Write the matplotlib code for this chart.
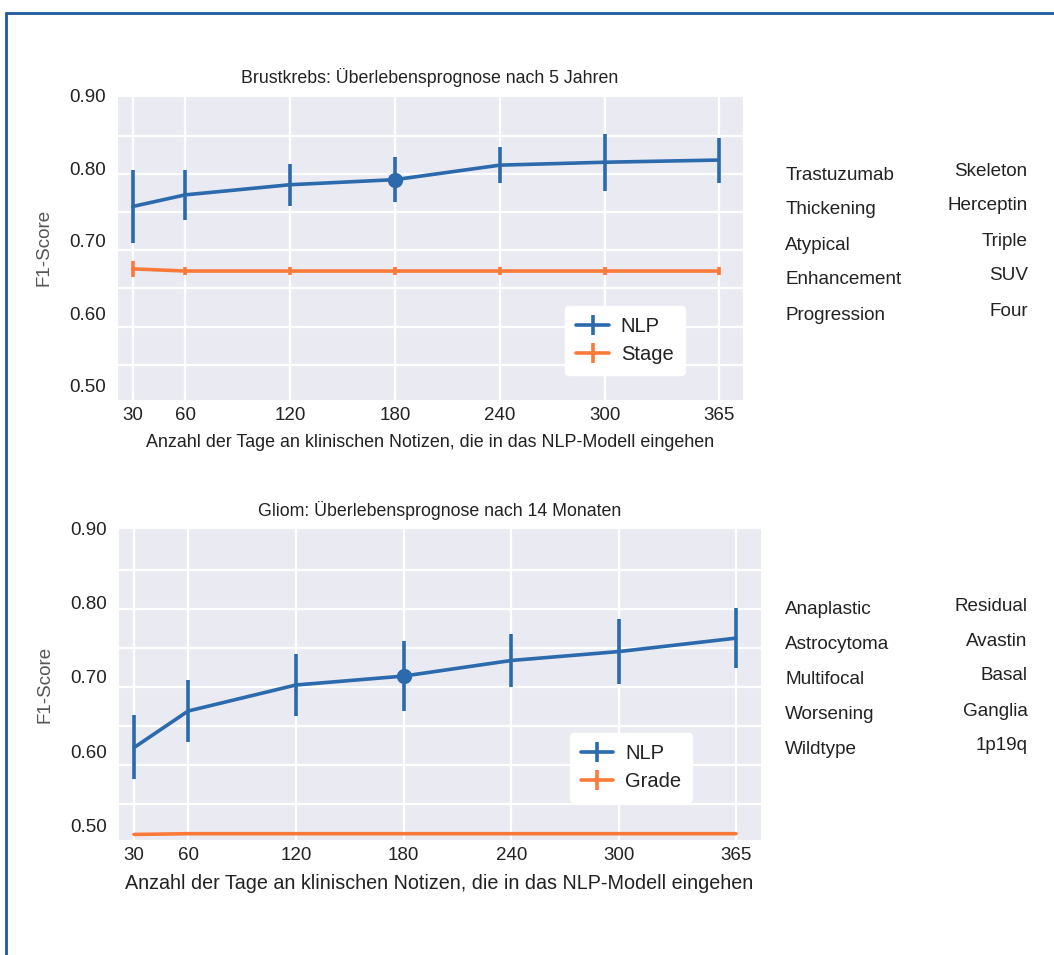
import numpy as np
import matplotlib
matplotlib.use('Agg')
import matplotlib.pyplot as plt
import seaborn as sns
from matplotlib.lines import Line2D
from matplotlib.ticker import FixedLocator

days = [30, 60, 120, 180, 240, 300, 365]
day_labels = ['30', '60', '120', '180', '240', '300', '365']

# Brustkrebs
bc_nlp = [0.747, 0.763, 0.777, 0.784, 0.804, 0.808, 0.811]
bc_nlp_err = [0.050, 0.034, 0.029, 0.031, 0.025, 0.039, 0.031]
bc_stage = [0.661, 0.658, 0.658, 0.658, 0.658, 0.658, 0.658]
bc_stage_err = [0.011, 0.006, 0.006, 0.006, 0.006, 0.006, 0.006]
bc_left_words = ['Trastuzumab', 'Thickening', 'Atypical', 'Enhancement', 'Progression']
bc_right_words = ['Skeleton', 'Herceptin', 'Triple', 'SUV', 'Four']

# Gliom
gl_nlp = [0.605, 0.654, 0.689, 0.701, 0.722, 0.734, 0.752]
gl_nlp_err = [0.043, 0.042, 0.042, 0.047, 0.036, 0.044, 0.040]
gl_grade = [0.488, 0.489, 0.489, 0.489, 0.489, 0.489, 0.489]
gl_grade_err = [0.001, 0.001, 0.001, 0.001, 0.001, 0.001, 0.001]
gl_left_words = ['Anaplastic', 'Astrocytoma', 'Multifocal', 'Worsening', 'Wildtype']
gl_right_words = ['Residual', 'Avastin', 'Basal', 'Ganglia', '1p19q']

yticks = [0.50, 0.60, 0.70, 0.80, 0.90]

sns.set_style('darkgrid')
plt.rcParams['font.family'] = ['Liberation Sans', 'DejaVu Sans']

BLUE = '#2a6aad'
ORANGE = '#fb7a3a'

fig = plt.figure(figsize=(10.54, 9.55), dpi=100)


def draw_panel(rect, title, nlp, nlp_err, base, base_err, base_name, legend_pos, xlabel_size):
    ax = fig.add_axes(rect)
    ax.errorbar(days, nlp, yerr=nlp_err, color=BLUE, lw=2.6, elinewidth=2.6, label='NLP')
    ax.errorbar(days, base, yerr=base_err, color=ORANGE, lw=2.6, elinewidth=2.6, label=base_name)
    ax.plot([days[3]], [nlp[3]], 'o', color=BLUE, ms=10)
    ax.set_xlim(21, 379)
    ax.set_ylim(0.48, 0.90)
    ax.set_xticks(days)
    ax.set_xticklabels(day_labels)
    ax.set_yticks(yticks)
    ax.set_yticklabels([f'{v:.2f}' for v in yticks])
    ax.yaxis.set_minor_locator(FixedLocator(np.linspace(0.529, 0.844, 7)))
    ax.grid(False, axis='y', which='major')
    ax.grid(True, axis='y', which='minor', color='white', lw=1.6)
    ax.grid(True, axis='x', which='major', color='white', lw=1.6)
    ax.tick_params(axis='both', which='both', length=0, labelsize=13.5, colors='#222222')
    ax.tick_params(axis='y', pad=8)
    ax.tick_params(axis='x', pad=5)
    ax.set_title(title, fontsize=12.8, color='#222222', pad=9)
    ax.set_xlabel('Anzahl der Tage an klinischen Notizen, die in das NLP-Modell eingehen',
                  fontsize=xlabel_size, color='#222222', labelpad=7)
    ax.set_ylabel('F1-Score', fontsize=13.5, color='#555555', labelpad=12)
    leg = ax.legend(loc='lower left', bbox_to_anchor=legend_pos, fontsize=14.5,
                    frameon=True, facecolor='white', edgecolor='white', framealpha=1,
                    handlelength=1.6, handletextpad=0.6, borderpad=0.55, labelspacing=0.45)
    for t in leg.get_texts():
        t.set_color('#222222')
    return ax


draw_panel([0.111, 0.581, 0.594, 0.319],
           'Brustkrebs: Überlebensprognose nach 5 Jahren',
           bc_nlp, bc_nlp_err, bc_stage, bc_stage_err, 'Stage', (0.70, 0.048), 12.9)
draw_panel([0.112, 0.120, 0.610, 0.327],
           'Gliom: Überlebensprognose nach 14 Monaten',
           gl_nlp, gl_nlp_err, gl_grade, gl_grade_err, 'Grade', (0.687, 0.09), 14.2)


def word_columns(left_words, right_words, y_left, y_right):
    for i, w in enumerate(left_words):
        fig.text(0.745, 1 - (y_left + 35 * i) / 955, w, fontsize=13.6, color='#222222',
                 ha='left', va='center')
    for i, w in enumerate(right_words):
        fig.text(0.975, 1 - (y_right + 35 * i) / 955, w, fontsize=13.6, color='#222222',
                 ha='right', va='center')


word_columns(bc_left_words, bc_right_words, 175, 171)
word_columns(gl_left_words, gl_right_words, 609, 606)

# blue frame
fig.add_artist(Line2D([0.006, 0.006], [0, 0.986], transform=fig.transFigure, color='#1f5a9e', lw=2))
fig.add_artist(Line2D([0.006, 1.0], [0.986, 0.986], transform=fig.transFigure, color='#1f5a9e', lw=2))

fig.savefig('out.png', dpi=100)
